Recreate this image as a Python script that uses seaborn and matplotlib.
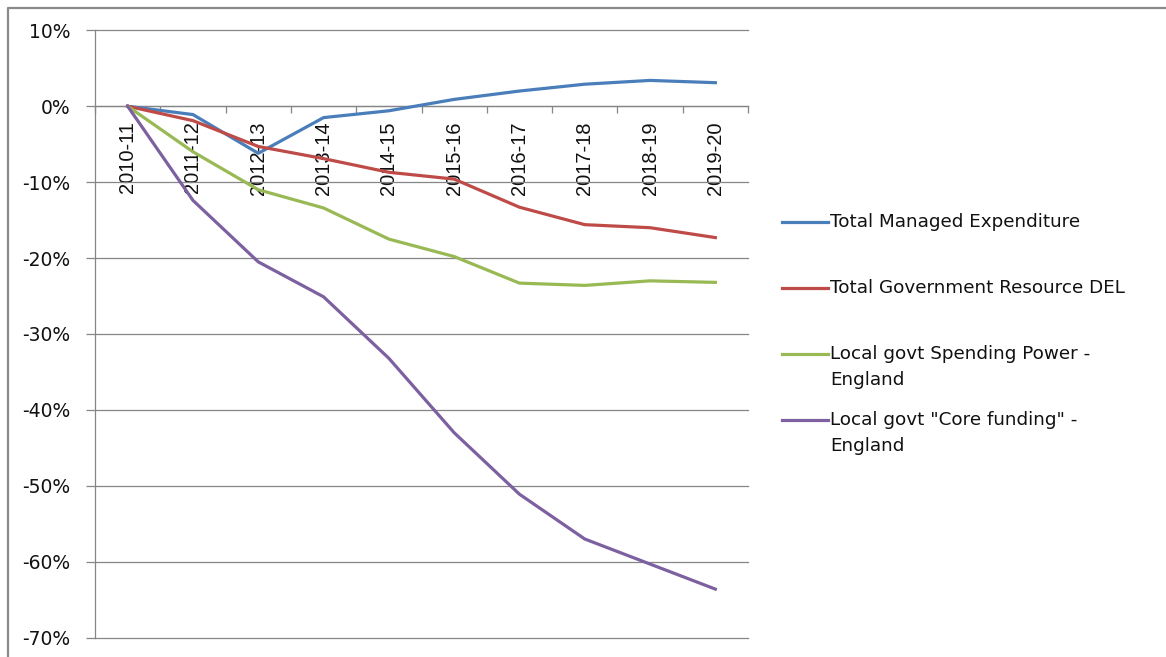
import numpy as np
import pandas as pd
import seaborn as sns
import matplotlib
matplotlib.use("Agg")
import matplotlib.pyplot as plt
from matplotlib.lines import Line2D
from matplotlib.ticker import FuncFormatter, FixedLocator
from matplotlib import font_manager

# ---------------- data (percent change vs 2010-11) ----------------
years = ["2010-11", "2011-12", "2012-13", "2013-14", "2014-15",
         "2015-16", "2016-17", "2017-18", "2018-19", "2019-20"]
total_managed_expenditure = [0.0, -1.1, -6.2, -1.5, -0.6, 0.9, 2.0, 2.9, 3.4, 3.1]
total_gov_resource_del = [0.0, -1.9, -5.3, -6.9, -8.7, -9.6, -13.3, -15.6, -16.0, -17.3]
local_spending_power = [0.0, -6.0, -11.0, -13.4, -17.5, -19.8, -23.3, -23.6, -23.0, -23.2]
local_core_funding = [0.0, -12.4, -20.5, -25.1, -33.2, -43.0, -51.1, -57.0, -60.3, -63.6]

series_names = [
    "Total Managed Expenditure",
    "Total Government Resource DEL",
    "Local govt Spending Power -\nEngland",
    "Local govt \"Core funding\" -\nEngland",
]
series_values = [total_managed_expenditure, total_gov_resource_del,
                 local_spending_power, local_core_funding]
colors = ["#4A7EBB", "#BE4B48", "#98B954", "#7D60A0"]

y_ticks = [10, 0, -10, -20, -30, -40, -50, -60, -70]

# ---------------- build long-form table ----------------
rows = []
for name, vals in zip(series_names, series_values):
    for yr, v in zip(years, vals):
        rows.append({"year": yr, "value": v, "series": name})
df = pd.DataFrame(rows)

# ---------------- fonts ----------------
installed = {f.name for f in font_manager.fontManager.ttflist}
xfont = "Liberation Sans Narrow" if "Liberation Sans Narrow" in installed else "Liberation Sans"
xsize = 17 if xfont == "Liberation Sans Narrow" else 14.5

# ---------------- figure ----------------
W, H = 1166, 657
fig = plt.figure(figsize=(W / 100, H / 100), dpi=100)
fig.patch.set_facecolor("white")

ax_left, ax_right = 95, 748
ax_top, ax_bot = 30.3, 637.7
ax = fig.add_axes([ax_left / W, 1 - ax_bot / H,
                   (ax_right - ax_left) / W, (ax_bot - ax_top) / H])

grid_col = "#868686"

sns.lineplot(data=df, x="year", y="value", hue="series",
             palette=dict(zip(series_names, colors)),
             linewidth=2.3, legend=False, sort=False, ax=ax, zorder=3)

ax.set_xlim(-0.5, len(years) - 0.5)
ax.set_ylim(-70, 10)
ax.set_xlabel("")
ax.set_ylabel("")

# y axis
ax.yaxis.set_major_locator(FixedLocator(y_ticks))
ax.yaxis.set_major_formatter(FuncFormatter(lambda v, _: f"{v:.0f}%"))
ax.grid(axis="y", color=grid_col, linewidth=0.9, zorder=0)
ax.grid(axis="x", visible=False)
ax.tick_params(axis="y", direction="out", length=6.5, width=0.9,
               color=grid_col, pad=11, labelsize=13.5, labelcolor="#111111")
for lab in ax.get_yticklabels():
    lab.set_fontfamily("DejaVu Sans")

# x axis crossing at 0
for s in ["top", "right"]:
    ax.spines[s].set_visible(False)
ax.spines["left"].set_color(grid_col)
ax.spines["left"].set_linewidth(0.9)
ax.spines["bottom"].set_position(("data", 0))
ax.spines["bottom"].set_color(grid_col)
ax.spines["bottom"].set_linewidth(0.9)

ax.set_xticks(np.arange(-0.5, len(years), 1.0))
ax.set_xticklabels([""] * (len(years) + 1))
ax.set_xticks(np.arange(len(years)), minor=True)
ax.set_xticklabels(years, minor=True, rotation=90,
                   fontfamily=xfont, fontsize=xsize, color="#111111")
ax.tick_params(axis="x", which="major", direction="out", length=5,
               width=0.9, color=grid_col)
ax.tick_params(axis="x", which="minor", length=0, pad=11)

ax.set_facecolor("white")
fig.canvas.draw()
for gl in ax.get_ygridlines():
    gl.set_clip_on(False)

# ---------------- legend (drawn manually to the right) ----------------
leg_handle_y = [222, 288, 354, 420]
line_gap = 26
for name, col, hy in zip(series_names, colors, leg_handle_y):
    fy = 1 - hy / H
    fig.add_artist(Line2D([782 / W, 828 / W], [fy, fy], color=col,
                          linewidth=2.3, transform=fig.transFigure))
    for i, part in enumerate(name.split("\n")):
        fig.text(830 / W, 1 - (hy + i * line_gap) / H, part,
                 ha="left", va="center", fontsize=13.2,
                 fontfamily="DejaVu Sans", color="#111111")

# ---------------- outer chart frame (left and top edges) ----------------
frame_col = "#8a8a8a"
fig.add_artist(Line2D([7.5 / W, 7.5 / W, 1.0], [0.0, 1 - 7.5 / H, 1 - 7.5 / H],
                      color=frame_col, linewidth=1.6,
                      transform=fig.transFigure))

fig.savefig("out.png", dpi=100, facecolor="white")
